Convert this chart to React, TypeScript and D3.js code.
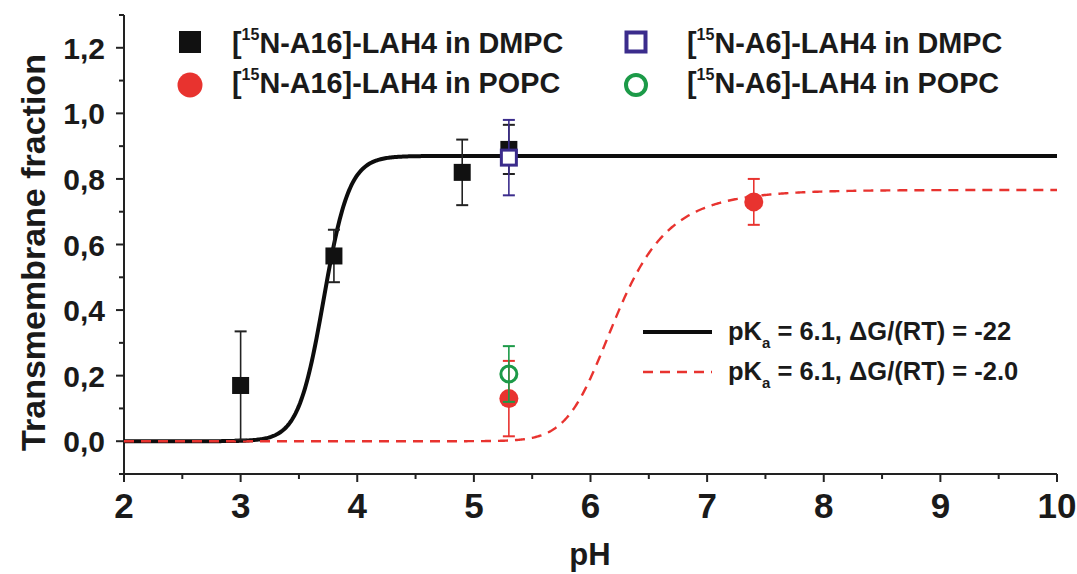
import React from "react";
import * as d3 from "d3";

// ---- data ----
const X_TICKS = [2, 3, 4, 5, 6, 7, 8, 9, 10];
const X_MINOR = [2.5, 3.5, 4.5, 5.5, 6.5, 7.5, 8.5, 9.5];
const Y_TICKS = [0, 0.2, 0.4, 0.6, 0.8, 1.0, 1.2];
const Y_MINOR = [-0.1, 0.1, 0.3, 0.5, 0.7, 0.9, 1.1, 1.3];
const Y_TICK_LABELS = ["0,0", "0,2", "0,4", "0,6", "0,8", "1,0", "1,2"];

// [15N-A16]-LAH4 in DMPC (filled black squares)
const A16_DMPC_PH = [3.0, 3.8, 4.9, 5.3];
const A16_DMPC_FRAC = [0.17, 0.565, 0.82, 0.89];
const A16_DMPC_ERR = [0.165, 0.08, 0.1, 0.075];

// [15N-A16]-LAH4 in POPC (filled red circles)
const A16_POPC_PH = [5.3, 7.4];
const A16_POPC_FRAC = [0.13, 0.73];
const A16_POPC_ERR = [0.115, 0.07];

// [15N-A6]-LAH4 in DMPC (open purple squares)
const A6_DMPC_PH = [5.3];
const A6_DMPC_FRAC = [0.865];
const A6_DMPC_ERR = [0.115];

// [15N-A6]-LAH4 in POPC (open green circles)
const A6_POPC_PH = [5.3];
const A6_POPC_FRAC = [0.205];
const A6_POPC_ERR = [0.085];

// model curves (parameters from the legend)
const PKA = 6.1;
const DG_RT_DMPC = -22;
const DG_RT_POPC = -2.0;
const F_MAX = 0.87;
const N_HIS = 4;

const LEGEND_TOP = [
  { label: "N-A16]-LAH4 in DMPC", kind: "sq", color: "#111" },
  { label: "N-A16]-LAH4 in POPC", kind: "ci", color: "#e8332f" },
  { label: "N-A6]-LAH4 in DMPC", kind: "osq", color: "#3b2c8c" },
  { label: "N-A6]-LAH4 in POPC", kind: "oci", color: "#1c9a48" },
];

const W = 1077;
const H = 574;
const FONT = "'Liberation Sans', Arial, Helvetica, sans-serif";

const x = d3.scaleLinear().domain([2, 10]).range([124, 1057]);
const y = d3.scaleLinear().domain([-0.1, 1.3]).range([474, 15]);

function model(ph: number, dg: number) {
  const K = Math.exp(-dg);
  const fn = 1 / (1 + Math.pow(10, PKA - ph));
  const q = K * Math.pow(fn, N_HIS);
  return (F_MAX * q) / (1 + q);
}

const PH_GRID = d3.range(2, 10.0001, 0.01);
const line = d3
  .line<number>()
  .x((d) => x(d))
  .curve(d3.curveLinear);

function ErrBars({ ph, v, e, color }: { ph: number[]; v: number[]; e: number[]; color: string }) {
  return (
    <g stroke={color} strokeWidth={1.6}>
      {ph.map((p, i) => {
        const cx = x(p);
        const t = y(v[i] + e[i]);
        const b = y(v[i] - e[i]);
        return (
          <g key={i}>
            <line x1={cx} x2={cx} y1={t} y2={b} />
            <line x1={cx - 6} x2={cx + 6} y1={t} y2={t} strokeWidth={2} />
            <line x1={cx - 6} x2={cx + 6} y1={b} y2={b} strokeWidth={2} />
          </g>
        );
      })}
    </g>
  );
}

export default function App() {
  const blackPath = line.y((d) => y(model(d, DG_RT_DMPC)))(PH_GRID) || "";
  const redPath = line.y((d) => y(model(d, DG_RT_POPC)))(PH_GRID) || "";

  return (
    <svg width={W} height={H} style={{ display: "block", position: "absolute", left: 0, top: 0, background: "#fff" }}>
      <rect width={W} height={H} fill="#fff" />
      {/* axes */}
      <g stroke="#222" strokeWidth={2} fill="none">
        <line x1={x(2)} x2={x(10)} y1={y(-0.1)} y2={y(-0.1)} />
        <line x1={x(2)} x2={x(2)} y1={y(-0.1)} y2={y(1.3)} />
        {X_TICKS.map((t) => (
          <line key={"xt" + t} x1={x(t)} x2={x(t)} y1={y(-0.1)} y2={y(-0.1) + 8} />
        ))}
        {X_MINOR.map((t) => (
          <line key={"xm" + t} x1={x(t)} x2={x(t)} y1={y(-0.1)} y2={y(-0.1) + 5} />
        ))}
        {Y_TICKS.map((t) => (
          <line key={"yt" + t} x1={x(2) - 8} x2={x(2)} y1={y(t)} y2={y(t)} />
        ))}
        {Y_MINOR.map((t) => (
          <line key={"ym" + t} x1={x(2) - 5} x2={x(2)} y1={y(t)} y2={y(t)} />
        ))}
      </g>
      <g fontFamily={FONT} fontWeight="bold" fill="#1a1a1a">
        {X_TICKS.map((t) => (
          <text key={"xl" + t} x={x(t)} y={518} fontSize={35} textAnchor="middle">
            {t}
          </text>
        ))}
        {Y_TICKS.map((t, i) => (
          <text key={"yl" + t} x={105} y={y(t) + 11} fontSize={30} textAnchor="end">
            {Y_TICK_LABELS[i]}
          </text>
        ))}
        <text x={590} y={565} fontSize={31} textAnchor="middle">
          pH
        </text>
        <text transform={`translate(45,${(y(-0.1) + y(1.3)) / 2 + 8}) rotate(-90)`} fontSize={34} textAnchor="middle">
          Transmembrane fraction
        </text>
      </g>

      {/* model curves */}
      <path d={blackPath} fill="none" stroke="#0d0d0d" strokeWidth={4} />
      <path d={redPath} fill="none" stroke="#e8332f" strokeWidth={2.4} strokeDasharray="10 7" />

      {/* data */}
      <ErrBars ph={A16_DMPC_PH} v={A16_DMPC_FRAC} e={A16_DMPC_ERR} color="#222" />
      {A16_DMPC_PH.map((p, i) => (
        <rect key={"bs" + i} x={x(p) - 8.5} y={y(A16_DMPC_FRAC[i]) - 8.5} width={17} height={17} fill="#111" />
      ))}
      <ErrBars ph={A6_DMPC_PH} v={A6_DMPC_FRAC} e={A6_DMPC_ERR} color="#3b2c8c" />
      {A6_DMPC_PH.map((p, i) => (
        <rect key={"ps" + i} x={x(p) - 7.5} y={y(A6_DMPC_FRAC[i]) - 7.5} width={15} height={15} fill="#fff" stroke="#3b2c8c" strokeWidth={3} />
      ))}
      <ErrBars ph={A16_POPC_PH} v={A16_POPC_FRAC} e={A16_POPC_ERR} color="#e8332f" />
      {A16_POPC_PH.map((p, i) => (
        <circle key={"rc" + i} cx={x(p)} cy={y(A16_POPC_FRAC[i])} r={9.5} fill="#e8332f" />
      ))}
      <ErrBars ph={A6_POPC_PH} v={A6_POPC_FRAC} e={A6_POPC_ERR} color="#1c9a48" />
      {A6_POPC_PH.map((p, i) => (
        <circle key={"gc" + i} cx={x(p)} cy={y(A6_POPC_FRAC[i])} r={8} fill="none" stroke="#1c9a48" strokeWidth={3} />
      ))}

      {/* top legend */}
      <g fontFamily={FONT} fontWeight="bold" fill="#1a1a1a">
        {LEGEND_TOP.map((d, i) => {
          const col = Math.floor(i / 2);
          const row = i % 2;
          const sx = col === 0 ? 190 : 636;
          const sy = row === 0 ? 42 : 85;
          const tx = col === 0 ? 232 : 687;
          const ty = row === 0 ? 53 : 93;
          let sym;
          if (d.kind === "sq") sym = <rect x={sx - 11} y={sy - 11} width={22} height={22} fill={d.color} />;
          else if (d.kind === "ci") sym = <circle cx={sx} cy={sy} r={12.5} fill={d.color} />;
          else if (d.kind === "osq")
            sym = <rect x={sx - 9.5} y={sy - 9.5} width={19} height={19} fill="#fff" stroke={d.color} strokeWidth={4} />;
          else sym = <circle cx={sx} cy={sy} r={10} fill="none" stroke={d.color} strokeWidth={4} />;
          return (
            <g key={i}>
              {sym}
              <text x={tx} y={ty} fontSize={28.8}>
                [<tspan fontSize={16} dy={-13}>15</tspan>
                <tspan dy={13}>{d.label}</tspan>
              </text>
            </g>
          );
        })}
      </g>

      {/* fit legend */}
      <g fontFamily={FONT} fontWeight="bold" fill="#1a1a1a">
        <line x1={643} x2={712} y1={332} y2={332} stroke="#0d0d0d" strokeWidth={4} />
        <line x1={643} x2={712} y1={372} y2={372} stroke="#e8332f" strokeWidth={2.4} strokeDasharray="10 7" />
        <text x={728} y={340} fontSize={25.5}>
          pK<tspan fontSize={15} dy={8}>a</tspan>
          <tspan dy={-8}>{` = ${PKA.toFixed(1)}, ΔG/(RT) = ${DG_RT_DMPC}`}</tspan>
        </text>
        <text x={728} y={380} fontSize={25.5}>
          pK<tspan fontSize={15} dy={8}>a</tspan>
          <tspan dy={-8}>{` = ${PKA.toFixed(1)}, ΔG/(RT) = ${DG_RT_POPC.toFixed(1)}`}</tspan>
        </text>
      </g>
    </svg>
  );
}
